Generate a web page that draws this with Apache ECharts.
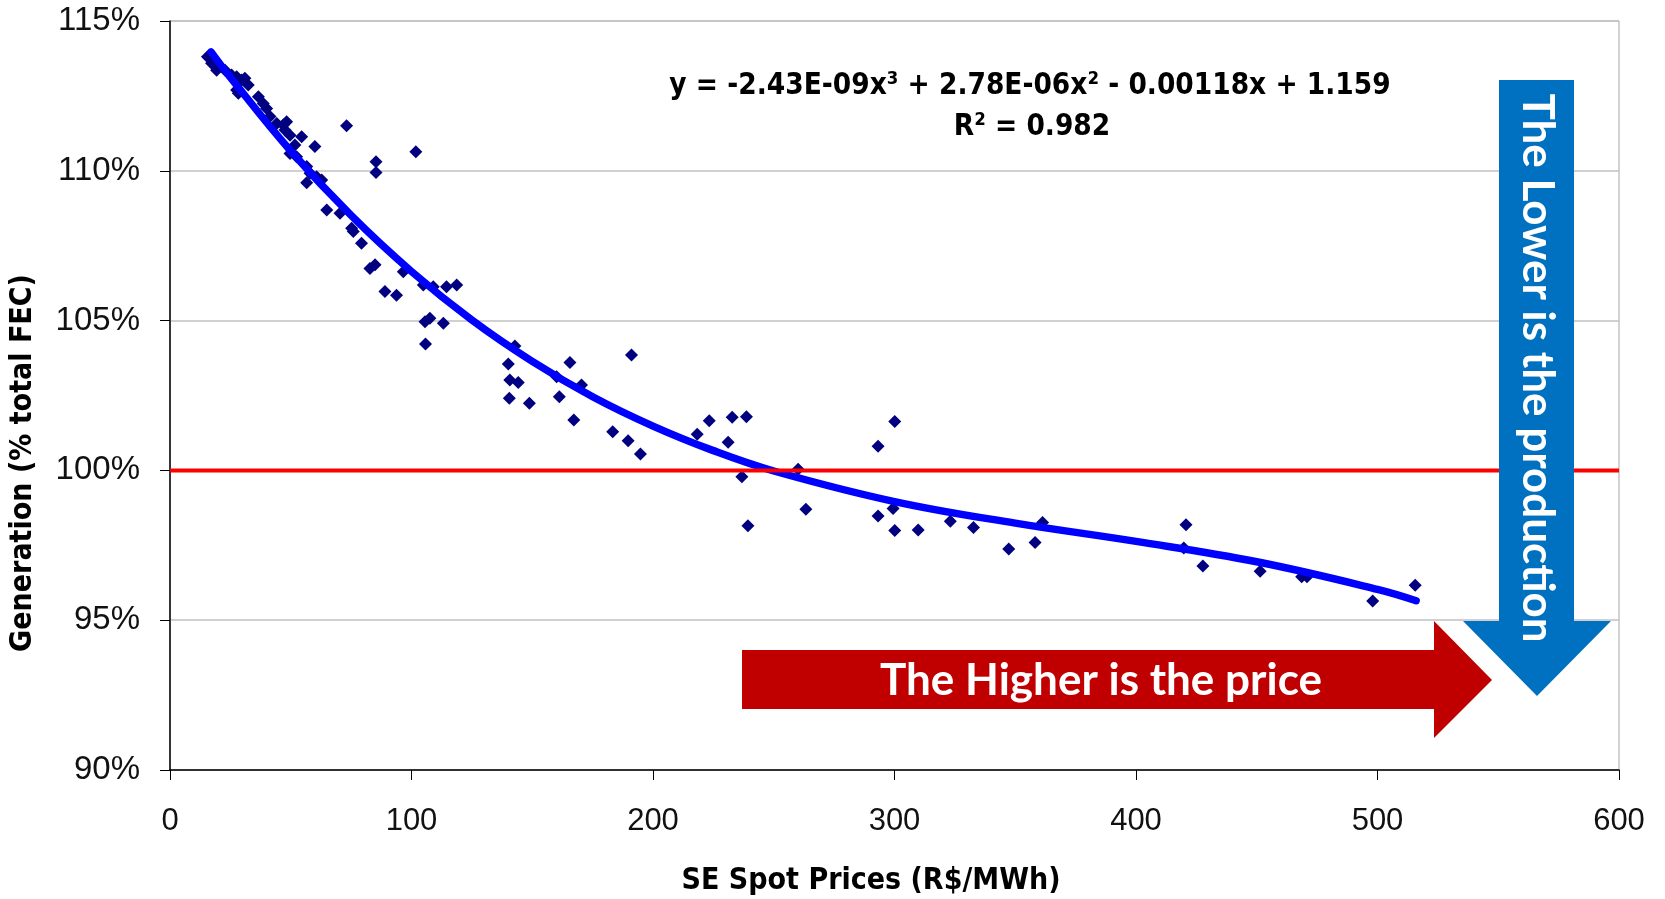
<!DOCTYPE html>
<html>
<head>
<meta charset="utf-8">
<script src="https://cdn.jsdelivr.net/npm/echarts@6/dist/echarts.min.js"></script>
<style>
html,body{margin:0;padding:0;background:#fff;}
#chart{width:1665px;height:899px;}
</style>
</head>
<body>
<div id="chart"></div>
<script>
// ---- data ----
const xTicks = [0, 100, 200, 300, 400, 500, 600];
const yTicks = [90, 95, 100, 105, 110, 115];

// observed points: [spot price R$/MWh, generation % of total FEC]
const observed = [
  [15.5,113.81],[17.2,113.59],[19.3,113.36],[20.7,113.48],[22.8,113.36],[25.5,113.2],
  [27.6,113.14],[29.7,113.03],[31.0,113.09],[32.4,112.86],[27.6,112.7],[28.3,112.59],
  [36.6,112.47],[38.6,112.25],[40.0,112.08],[41.4,111.81],[44.2,111.58],[46.9,111.53],
  [48.3,111.64],[47.6,111.36],[49.7,111.19],[51.7,110.86],[54.5,111.14],[60.0,110.81],
  [49.7,110.58],[52.4,110.47],[56.6,110.14],[58.0,109.92],[60.7,109.8],[62.8,109.69],
  [56.6,109.6],[64.9,108.69],[70.4,108.58],[75.2,108.08],[75.9,107.97],[79.3,107.58],
  [82.8,106.74],[84.9,106.86],[96.6,106.63],[89.0,105.97],[93.8,105.85],[104.9,106.19],
  [109.0,106.13],[114.5,106.13],[118.7,106.19],[105.6,104.96],[107.6,105.08],[113.2,104.91],
  [73.1,111.5],[85.3,110.3],[85.3,109.94],[101.8,110.64],
  [105.8,104.22],[142.8,104.15],[140.1,103.55],[140.7,103.02],[144.2,102.93],[140.5,102.41],
  [148.8,102.24],[160.1,103.13],[161.2,102.46],
  [165.6,103.6],[170.4,102.85],[167.2,101.68],[191.1,103.85],[183.3,101.29],[189.7,100.99],
  [194.8,100.55],[218.3,101.21],[223.3,101.66],[231.1,100.94],[232.8,101.77],[238.7,101.79],
  [236.8,99.79],[239.3,98.15],[260.1,100.04],[263.3,98.7],[293.2,100.81],[300.1,101.63],
  [293.2,98.48],[299.4,98.73],[300.1,97.99],[309.8,98.01],
  [323.1,98.3],[332.7,98.09],[347.3,97.38],[358.2,97.59],[361.3,98.26],[420.7,98.19],
  [419.8,97.41],[427.7,96.81],[451.4,96.63],[468.6,96.45],[470.8,96.45],[498.0,95.64],
  [515.6,96.17]
];

// trend line
const trendX = [17, 25, 50, 75, 100, 125, 150, 175, 200, 225, 250, 300, 350, 400, 450, 500, 516];
const trendY = [113.97, 113.12, 110.66, 108.51, 106.64, 105.02, 103.64, 102.46, 101.48, 100.66, 99.98, 98.96, 98.24, 97.63, 96.95, 96.03, 95.65];

const referenceLevel = 100;

const equationText = 'y = -2.43E-09x³ + 2.78E-06x² - 0.00118x + 1.159';
const r2Text = 'R² = 0.982';
const xTitle = 'SE Spot Prices (R$/MWh)';
const yTitle = 'Generation (% total FEC)';
const redArrowText = 'The Higher is the price';
const blueArrowText = 'The Lower is the production';

// ---- chart ----
const chart = echarts.init(document.getElementById('chart'), null, {renderer: 'canvas'});
const trendData = trendX.map((x, i) => [x, trendY[i]]);
const centered = {align: 'center', verticalAlign: 'middle', textAlign: 'center', textVerticalAlign: 'middle'};

const option = {
  animation: false,
  backgroundColor: '#fff',
  grid: {
    left: 170, right: 46, top: 21, bottom: 129,
    show: true, borderColor: '#a6a6a6', borderWidth: 1, backgroundColor: '#fff'
  },
  xAxis: {
    type: 'value', min: xTicks[0], max: xTicks[xTicks.length - 1], interval: 100,
    axisLine: {show: true, lineStyle: {color: '#000', width: 1.5}},
    axisTick: {show: true, inside: false, length: 10, lineStyle: {color: '#000'}},
    axisLabel: {margin: 36, fontFamily: 'Liberation Sans', fontSize: 31, color: '#111'},
    splitLine: {show: false}
  },
  yAxis: {
    type: 'value', min: yTicks[0], max: yTicks[yTicks.length - 1], interval: 5,
    axisLine: {show: true, lineStyle: {color: '#000', width: 1.5}},
    axisTick: {show: true, inside: false, length: 10, lineStyle: {color: '#000'}},
    axisLabel: {margin: 30, fontFamily: 'Liberation Sans', fontSize: 33, color: '#111',
      formatter: v => v + '%'},
    splitLine: {show: true, lineStyle: {color: '#c0c0c0', width: 1.5}}
  },
  series: [
    {
      type: 'scatter', data: observed, symbol: 'diamond', symbolSize: 13,
      itemStyle: {color: '#000080', opacity: 1}, z: 2
    },
    {
      type: 'line', data: trendData, smooth: 0.4, showSymbol: false,
      lineStyle: {color: '#0000ff', width: 7.5, cap: 'round'}, z: 3
    },
    {
      type: 'line', data: [[xTicks[0], referenceLevel], [xTicks[xTicks.length - 1], referenceLevel]],
      showSymbol: false, lineStyle: {color: '#ff0000', width: 4}, z: 4
    }
  ],
  graphic: [
    {
      type: 'text', x: 1030, y: 86, z: 10, scaleX: 0.95,
      style: Object.assign({text: equationText, font: 'bold 31px "DejaVu Sans Condensed"', fill: '#000'}, centered)
    },
    {
      type: 'text', x: 1032, y: 127, z: 10, scaleX: 0.95,
      style: Object.assign({text: r2Text, font: 'bold 31px "DejaVu Sans Condensed"', fill: '#000'}, centered)
    },
    {
      type: 'text', x: 871, y: 881, z: 10,
      style: Object.assign({text: xTitle, font: 'bold 30px "DejaVu Sans Condensed"', fill: '#000'}, centered)
    },
    {
      type: 'text', x: 23, y: 463, rotation: Math.PI / 2, z: 10,
      style: Object.assign({text: yTitle, font: 'bold 30px "DejaVu Sans Condensed"', fill: '#000'}, centered)
    },
    {
      type: 'polygon', z: 20,
      shape: {points: [[742,650],[1434,650],[1434,621],[1492,680],[1434,738],[1434,709],[742,709]]},
      style: {fill: '#c00000'}
    },
    {
      type: 'text', x: 1101, y: 681, z: 21,
      style: Object.assign({text: redArrowText, font: 'bold 44px Lato', fill: '#fff'}, centered)
    },
    {
      type: 'polygon', z: 20,
      shape: {points: [[1499,80],[1574,80],[1574,621],[1611,621],[1537,696],[1463,621],[1499,621]]},
      style: {fill: '#0070c0'}
    },
    {
      type: 'text', x: 1537, y: 368, rotation: -Math.PI / 2, z: 21,
      style: Object.assign({text: blueArrowText, font: 'bold 44px Lato', fill: '#fff'}, centered)
    }
  ]
};
chart.setOption(option);
</script>
</body>
</html>
